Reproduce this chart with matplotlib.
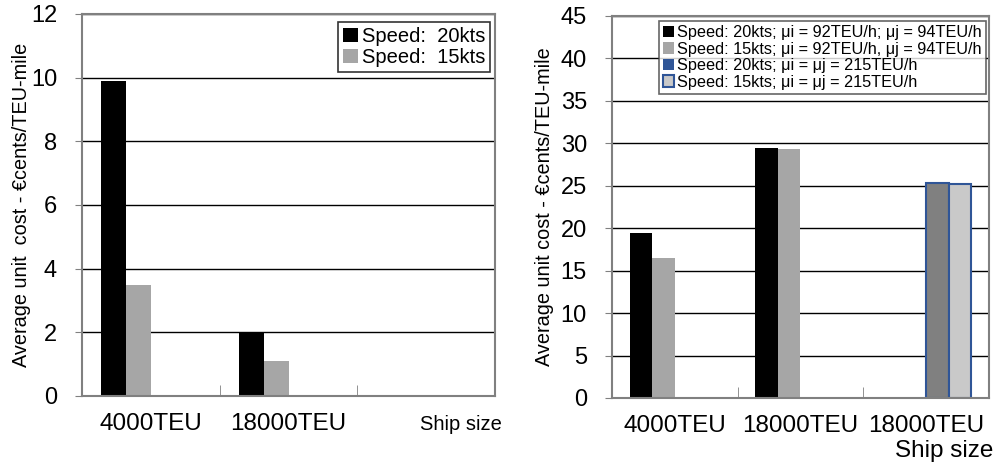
import numpy as np
import matplotlib.pyplot as plt
from matplotlib.patches import Patch

plt.rcParams['font.family'] = ['Liberation Sans', 'DejaVu Sans']

# left panel: base case
left_cats = ['4000TEU', '18000TEU', '']
left_20kts = [9.9, 2.0, np.nan]
left_15kts = [3.5, 1.1, np.nan]

# right panel: with port productivity
right_cats = ['4000TEU', '18000TEU', '18000TEU']
right_20kts = [19.4, 29.5, np.nan]
right_15kts = [16.5, 29.3, np.nan]
right_20kts_hi = [np.nan, np.nan, 25.3]
right_15kts_hi = [np.nan, np.nan, 25.2]

ylabel = 'Average unit  cost - €cents/TEU-mile'
ylabel_r = 'Average unit cost - €cents/TEU-mile'

BLACK = '#000000'
GREY = '#a6a6a6'
DARK = '#808080'
LIGHT = '#c9c9c9'
BLUE = '#2f5597'
SPINE = '#808080'


def style_axes(ax, ymax, ystep):
    ax.set_xlim(-0.5, 2.5)
    ax.set_ylim(0, ymax)
    ax.set_yticks(np.arange(0, ymax + 0.1, ystep))
    ax.yaxis.grid(True, color='black', linewidth=1)
    ax.set_axisbelow(True)
    for s in ax.spines.values():
        s.set_color(SPINE)
        s.set_linewidth(1.5)
    ax.tick_params(axis='y', labelsize=17, length=5, color=SPINE, pad=13)
    # category separators as minor ticks pointing inward
    ax.set_xticks([0.5, 1.5], minor=True)
    ax.tick_params(axis='x', which='minor', direction='in', length=8, color=SPINE)
    ax.tick_params(axis='x', which='major', length=0, labelsize=17.5, pad=12)


fig = plt.figure(figsize=(9.98, 4.65), dpi=100)
w = 0.18
x = np.arange(3)
offsets = np.array([-1.5, -0.5, 0.5, 1.5]) * w

# left chart
ax1 = fig.add_axes([0.0822, 0.1484, 0.4138, 0.8215])
style_axes(ax1, 12, 2)
ax1.bar(x + offsets[0], left_20kts, w, color=BLACK, label='Speed:  20kts')
ax1.bar(x + offsets[1], left_15kts, w, color=GREY, label='Speed:  15kts')
ax1.set_xticks(x[:2])
ax1.set_xticklabels(left_cats[:2])
ax1.set_ylabel(ylabel, fontsize=14.3, labelpad=0)
fig.text(0.421, 0.088, 'Ship size', fontsize=14.5, ha='left', va='center')
ax1.legend(loc='upper right', bbox_to_anchor=(0.491, 0.953), bbox_transform=fig.transFigure,
           fontsize=14.5, frameon=True, fancybox=False, edgecolor='black',
           handlelength=0.7, handleheight=0.7, handletextpad=0.2, borderpad=0.25,
           labelspacing=0.1, borderaxespad=0)
ax1.get_legend().get_frame().set_linewidth(1.2)

# right chart
ax2 = fig.add_axes([0.6132, 0.1441, 0.3778, 0.8215])
style_axes(ax2, 45, 5)
ax2.bar(x + offsets[0], right_20kts, w, color=BLACK)
ax2.bar(x + offsets[1], right_15kts, w, color=GREY)
ax2.bar(x + offsets[2], right_20kts_hi, w, color=DARK, edgecolor=BLUE, linewidth=1.5)
ax2.bar(x + offsets[3], right_15kts_hi, w, color=LIGHT, edgecolor=BLUE, linewidth=1.5)
ax2.set_xticks(x)
ax2.set_xticklabels(right_cats)
ax2.set_ylabel(ylabel_r, fontsize=14.3, labelpad=5)
fig.text(0.995, 0.03, 'Ship size', fontsize=17.5, ha='right', va='center')

handles = [
    Patch(facecolor=BLACK),
    Patch(facecolor=GREY),
    Patch(facecolor=BLUE),
    Patch(facecolor=LIGHT, edgecolor=BLUE, linewidth=1.5),
]
labels = [
    'Speed: 20kts; μi = 92TEU/h; μj = 94TEU/h',
    'Speed: 15kts; μi = 92TEU/h, μj = 94TEU/h',
    'Speed: 20kts; μi = μj = 215TEU/h',
    'Speed: 15kts; μi = μj = 215TEU/h',
]
leg = ax2.legend(handles, labels, loc='upper right', bbox_to_anchor=(0.988, 0.955),
                 bbox_transform=fig.transFigure, fontsize=11.7, frameon=True,
                 fancybox=False, edgecolor='#404040', handlelength=0.7, handleheight=0.7,
                 handletextpad=0.2, borderpad=0.25, labelspacing=0.1, borderaxespad=0)
leg.get_frame().set_linewidth(1.2)

fig.savefig('out.png', dpi=100)
